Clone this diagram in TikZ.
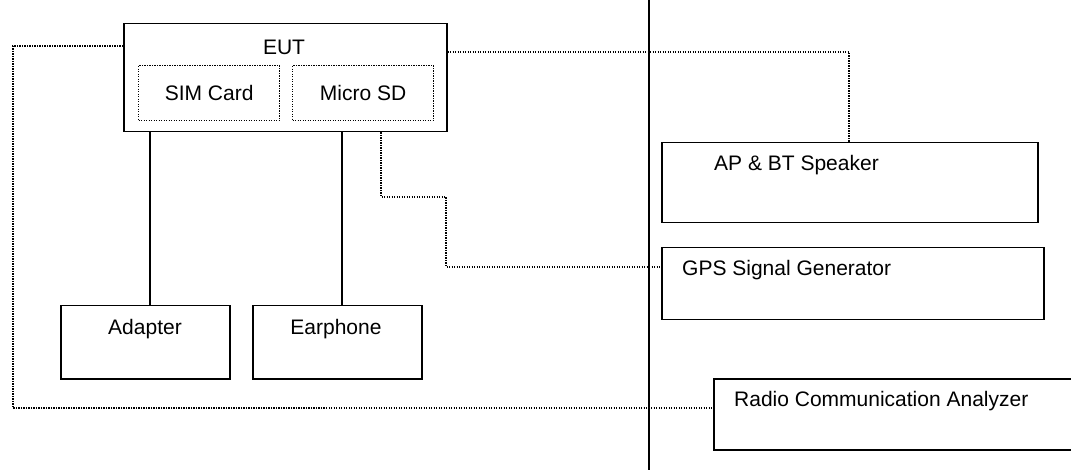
\documentclass[tikz,border=0pt]{standalone}
\usepackage{fontspec}
\setmainfont{Liberation Sans}
\begin{document}
\begin{tikzpicture}[x=1pt,y=-1pt,
  box/.style={draw,line width=1.5pt,inner sep=0pt,anchor=north west},
  inbox/.style={draw,line width=1.3pt,dash pattern=on 1.2pt off 1.3pt,inner sep=0pt,anchor=north west},
  txt/.style={font=\fontsize{21}{25}\selectfont,inner sep=0pt},
  solidline/.style={line width=1.5pt},
  dotline/.style={line width=1.3pt,dash pattern=on 1.2pt off 1.3pt}]
\useasboundingbox (0,0) rectangle (1071,470);
\begin{scope}
\clip (0,0) rectangle (1071,470);
% boxes
\node[box,minimum width=323pt,minimum height=108pt] (eut) at (123,23) {};
\node[txt] (euttxt) at (284,47) {EUT};
\node[inbox,minimum width=141pt,minimum height=55pt] (sim) at (138,65) {};
\node[txt] (simtxt) at (sim.center) {SIM Card};
\node[inbox,minimum width=141pt,minimum height=55pt] (sd) at (292,65) {};
\node[txt] (sdtxt) at (sd.center) {Micro SD};
\node[box,minimum width=169pt,minimum height=73pt] (adapter) at (60,305) {};
\node[txt] (adtxt) at (145,329) {Adapter};
\node[box,minimum width=169pt,minimum height=73pt] (earphone) at (252,305) {};
\node[txt] (eartxt) at (336,329) {Earphone};
\node[box,minimum width=376pt,minimum height=80pt] (ap) at (661,142) {};
\node[txt,anchor=west] (aptxt) at (714,165) {AP \& BT Speaker};
\node[box,minimum width=382pt,minimum height=72pt] (gps) at (661,247) {};
\node[txt,anchor=west] (gpstxt) at (682,270) {GPS Signal Generator};
\node[box,minimum width=380pt,minimum height=71pt] (radio) at (713,378) {};
\node[txt,anchor=west] (radtxt) at (734,401) {Radio Communication Analyzer};
% divider
\coordinate (dtop) at (649,0);
\coordinate (dbot) at (649,470);
\draw[solidline] (dtop) -- (dbot);
% solid connectors
\coordinate (xa) at (150,0);
\coordinate (xe) at (342,0);
\draw[solidline] (eut.south -| xa) -- (adapter.north -| xa);
\draw[solidline] (eut.south -| xe) -- (earphone.north -| xe);
% dotted connectors
\coordinate (yl) at (0,46);
\coordinate (yr) at (0,52);
\coordinate (yrad) at (0,408);
\coordinate (xap) at (849,0);
\coordinate (xsd) at (381,0);
\coordinate (ygps) at (0,267);
\draw[dotline] (eut.west |- yl) -- (13,46) -- (13,408) -- (radio.west |- yrad);
\draw[dotline] (eut.east |- yr) -- (849,52) -- (ap.north -| xap);
\draw[dotline] (eut.south -| xsd) -- (381,197) -- (446,197) -- (446,267) -- (gps.west |- ygps);
\end{scope}
\end{tikzpicture}
\end{document}
